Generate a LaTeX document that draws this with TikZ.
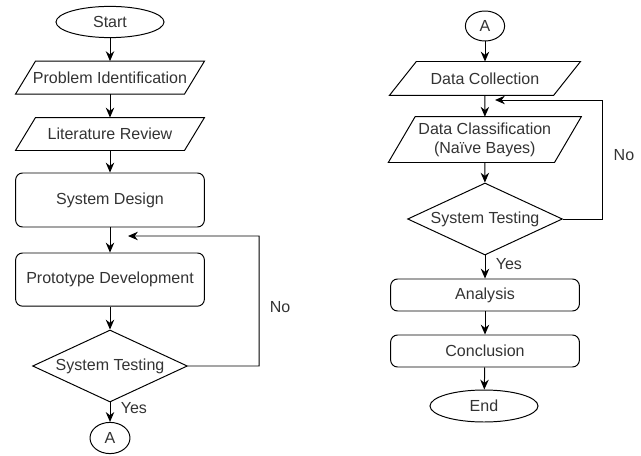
\documentclass[tikz,border=0pt]{standalone}
\usepackage{fontspec}
\setmainfont{Liberation Sans}
\usetikzlibrary{shapes.geometric,arrows.meta}

\begin{document}
\begin{tikzpicture}[>={Stealth[length=7pt,width=6pt]}, line width=0.7pt,
    every node/.style={font=\fontsize{11.4}{13.5}\selectfont, text=black!80},
    term/.style={draw, ellipse, inner sep=0pt},
    io/.style={inner sep=0pt, minimum width=4.7cm, minimum height=0.8cm},
    proc/.style={draw, rounded corners=5pt, minimum width=4.72cm, inner sep=0pt},
    dec/.style={draw, diamond, aspect=2.15, inner sep=0pt, minimum width=3.87cm, minimum height=1.8cm}]
    \useasboundingbox (0,0) rectangle (16.025,-11.375);

    % Left column
    \node[term, minimum width=2.7cm, minimum height=0.78cm] (start) at (2.75,-0.55) {Start};
    \node[io] (probid) at (2.75,-1.94) {Problem Identification};
    \node[io] (litrev) at (2.75,-3.35) {Literature Review};
    \node[proc, minimum height=1.35cm] (sysdes) at (2.75,-5.0) {System Design};
    \node[proc, minimum height=1.33cm] (proto) at (2.75,-6.99) {Prototype Development};
    \node[dec] (test1) at (2.75,-9.15) {System Testing};
    \node[term, minimum width=1cm, minimum height=0.78cm] (conA1) at (2.75,-10.95) {A};
    \coordinate (back1) at (3.2,-5.9);

    % Right column
    \node[term, minimum width=0.98cm, minimum height=0.75cm] (conA2) at (12.125,-0.65) {A};
    \node[io, minimum width=4.75cm, minimum height=0.82cm] (datcol) at (12.125,-1.96) {Data Collection};
    \node[io, minimum width=4.8cm, minimum height=1.12cm, align=center] (datcls) at (12.12,-3.49) {Data Classification\\(Naïve Bayes)};
    \node[dec] (test2) at (12.125,-5.475) {System Testing};
    \node[proc, minimum height=0.8cm] (anal) at (12.125,-7.375) {Analysis};
    \node[proc, minimum height=0.8cm] (concl) at (12.125,-8.775) {Conclusion};
    \node[term, minimum width=2.7cm, minimum height=0.8cm] (fin) at (12.1,-10.15) {End};
    \coordinate (back2) at (12.375,-2.5);

    % Parallelogram outlines
    \foreach \n/\s in {probid/0.5, litrev/0.5, datcol/0.67, datcls/0.67}
      \draw ([xshift=\s cm]\n.north west) -- (\n.north east)
        -- ([xshift=-\s cm]\n.south east) -- (\n.south west) -- cycle;

    % Arrows
    \draw[->] (start) -- (probid);
    \draw[->] (probid) -- (litrev);
    \draw[->] (litrev) -- (sysdes);
    \draw[->] (sysdes) -- (proto);
    \draw[->] (proto) -- (test1);
    \draw[->] (test1) -- node[right, xshift=4pt, yshift=3pt] {Yes} (conA1);
    \draw[->] (conA2) -- (datcol);
    \draw[->] (datcol) -- (datcls);
    \draw[->] (datcls) -- (test2);
    \draw[->] (test2) -- node[right, xshift=4pt, yshift=2pt] {Yes} (anal);
    \draw[->] (anal) -- (concl);
    \draw[->] (concl) -- (fin);

    % Loops back
    \draw[->] (test1.east) -- ++(1.78,0) -- node[right, xshift=4pt, pos=0.45] {No} ++(0,3.25) -- (back1);
    \draw[->] (test2.east) -- ++(1.0,0) -- node[right, xshift=4pt, pos=0.54] {No} ++(0,2.975) -- (back2);
\end{tikzpicture}
\end{document}
